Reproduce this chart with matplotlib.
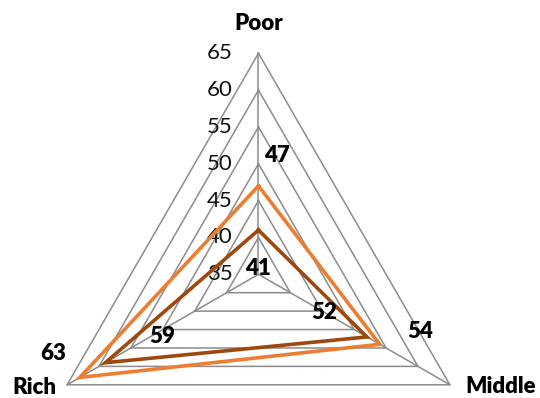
import numpy as np
import matplotlib
matplotlib.use("Agg")
from matplotlib import pyplot as plt

categories = ["Poor", "Middle", "Rich"]
series_orange = [47, 54, 63]
series_brown = [41, 52, 59]
ring_levels = [35, 40, 45, 50, 55, 60, 65]

plt.rcParams['font.family'] = ['Lato', 'DejaVu Sans']

fig = plt.figure(figsize=(5.4, 3.98), dpi=100)
ax = fig.add_axes([0.0694, -0.2445, 0.8185, 1.1106], projection='polar')
ax.set_theta_offset(np.pi / 2)
ax.set_theta_direction(-1)
ax.set_ylim(35, 65)
ax.grid(False)
ax.spines['polar'].set_visible(False)
ax.set_xticks([])
ax.set_yticks([])
ax.patch.set_alpha(0)

angles = np.linspace(0, 2 * np.pi, len(categories), endpoint=False)
closed = np.concatenate([angles, angles[:1]])

# triangular grid and spokes
for lv in ring_levels[1:]:
    ax.plot(closed, [lv] * len(closed), color='#8c8c8c', lw=1.1, clip_on=False)
for a in angles:
    ax.plot([a, a], [35, 65], color='#8c8c8c', lw=1.1, clip_on=False)

# ring labels left of the top spoke
for lv in ring_levels:
    ax.annotate(str(lv), xy=(0, lv), xytext=(-26, 0), textcoords='offset pixels',
                ha='right', va='center', fontsize=16, color='#111111',
                annotation_clip=False)

def draw(vals, color):
    v = list(vals) + [vals[0]]
    ax.plot(closed, v, color=color, lw=2.6, solid_joinstyle='miter', clip_on=False, zorder=3)

draw(series_brown, '#9e480e')
draw(series_orange, '#ed7d31')

# data labels
orange_off = [(18, 30), (40, 13), (-27, 24)]
brown_off = [(0, -38), (-43, 24), (57, 26)]
lab = dict(textcoords='offset pixels', ha='center', va='center', fontsize=16,
           fontweight='heavy', annotation_clip=False)
for a, v, off in zip(angles, series_orange, orange_off):
    ax.annotate(str(v), xy=(a, v), xytext=off, **lab)
for a, v, off in zip(angles, series_brown, brown_off):
    ax.annotate(str(v), xy=(a, v), xytext=off, **lab)

# category labels
cat_off = [(0, 30), (51, -2), (-33, -3)]
for a, name, off in zip(angles, categories, cat_off):
    ax.annotate(name, xy=(a, 65), xytext=off, **lab)

fig.savefig("out.png", dpi=100)
